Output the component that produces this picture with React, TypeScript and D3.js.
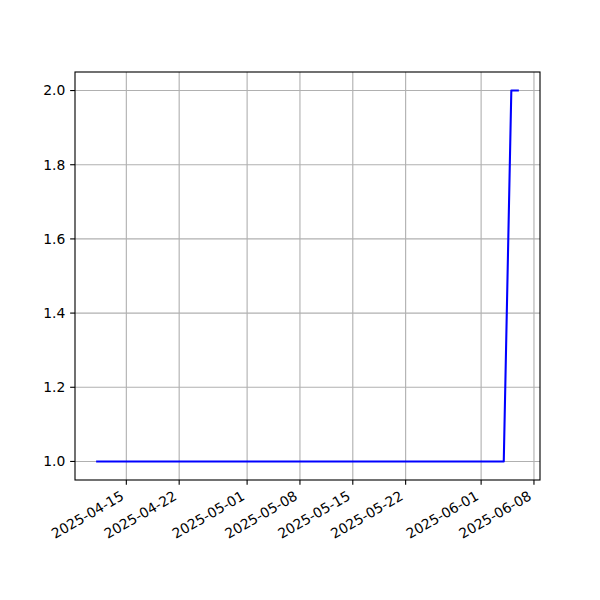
import { useEffect, useRef } from 'react';
import * as d3 from 'd3';

// data points (value changes on 2025-06-05)
const dates = ['2025-04-11', '2025-06-04', '2025-06-05', '2025-06-06'];
const values = [1, 1, 2, 2];
const xTickLabels = ['2025-04-15', '2025-04-22', '2025-05-01', '2025-05-08', '2025-05-15', '2025-05-22', '2025-06-01', '2025-06-08'];
const yTicks = [1.0, 1.2, 1.4, 1.6, 1.8, 2.0];

const W = 600;
const H = 600;
const margin = { left: 75, right: 60, top: 72, bottom: 120 };

export default function App() {
  const ref = useRef<SVGSVGElement>(null);

  useEffect(() => {
    if (!ref.current) return;
    const svg = d3.select(ref.current);
    svg.selectAll('*').remove();

    const parse = d3.utcParse('%Y-%m-%d');
    const xs = dates.map((d) => parse(d) as Date);
    const t0 = +xs[0];
    const t1 = +xs[xs.length - 1];
    const xPad = (t1 - t0) * 0.05;
    const yMin = d3.min(values)!;
    const yMax = d3.max(values)!;
    const yPad = (yMax - yMin) * 0.05;

    const x = d3.scaleUtc()
      .domain([new Date(t0 - xPad), new Date(t1 + xPad)])
      .range([margin.left, W - margin.right]);
    const y = d3.scaleLinear()
      .domain([yMin - yPad, yMax + yPad])
      .range([H - margin.bottom, margin.top]);

    const font = 'DejaVu Sans';
    const x0 = margin.left;
    const x1 = W - margin.right;
    const y0 = H - margin.bottom;
    const y1 = margin.top;
    const lw = 0.8 * 1.389;

    // grid
    const g = svg.append('g');
    xTickLabels.forEach((t) => {
      const px = x(parse(t) as Date);
      g.append('line')
        .attr('x1', px).attr('x2', px).attr('y1', y0).attr('y2', y1)
        .attr('stroke', '#b0b0b0').attr('stroke-width', lw);
    });
    yTicks.forEach((v) => {
      const py = y(v);
      g.append('line')
        .attr('x1', x0).attr('x2', x1).attr('y1', py).attr('y2', py)
        .attr('stroke', '#b0b0b0').attr('stroke-width', lw);
    });

    // line
    const line = d3.line<number>()
      .x((_, i) => x(xs[i]))
      .y((d) => y(d));
    svg.append('path')
      .datum(values)
      .attr('d', line)
      .attr('fill', 'none')
      .attr('stroke', '#0000ff')
      .attr('stroke-width', 1.5 * 1.389)
      .attr('stroke-linecap', 'butt')
      .attr('stroke-linejoin', 'round');

    // spines
    svg.append('rect')
      .attr('x', x0).attr('y', y1).attr('width', x1 - x0).attr('height', y0 - y1)
      .attr('fill', 'none').attr('stroke', '#000').attr('stroke-width', lw);

    // x ticks, labels rotated 30deg and right-aligned like autofmt_xdate
    xTickLabels.forEach((t) => {
      const px = x(parse(t) as Date);
      svg.append('line')
        .attr('x1', px).attr('x2', px).attr('y1', y0).attr('y2', y0 + 4.86)
        .attr('stroke', '#000').attr('stroke-width', lw);
      const bx = px - 1.5;
      const by = y0 + 18.8;
      svg.append('text')
        .attr('x', bx).attr('y', by)
        .attr('transform', `rotate(-30,${bx},${by})`)
        .attr('text-anchor', 'end')
        .attr('font-family', font)
        .attr('font-size', 13.89)
        .attr('fill', '#000')
        .text(t);
    });

    // y ticks
    yTicks.forEach((v) => {
      const py = y(v);
      svg.append('line')
        .attr('x1', x0 - 4.86).attr('x2', x0).attr('y1', py).attr('y2', py)
        .attr('stroke', '#000').attr('stroke-width', lw);
      svg.append('text')
        .attr('x', x0 - 9.72).attr('y', py)
        .attr('dy', '0.35em')
        .attr('text-anchor', 'end')
        .attr('font-family', font)
        .attr('font-size', 13.89)
        .attr('fill', '#000')
        .text(d3.format('.1f')(v));
    });
  }, []);

  return (
    <div style={{ margin: -8 }}>
      <svg ref={ref} width={W} height={H} style={{ display: 'block', background: '#fff' }} />
    </div>
  );
}
